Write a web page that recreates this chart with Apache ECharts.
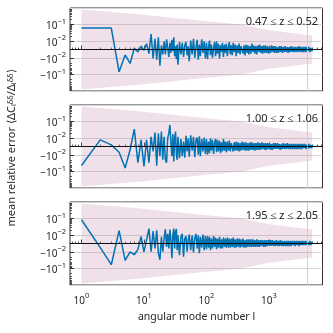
<!DOCTYPE html>
<html><head><meta charset="utf-8">
<script src="https://cdn.jsdelivr.net/npm/echarts@6/dist/echarts.min.js"></script>
<style>html,body{margin:0;padding:0;background:#fff}#c{width:333px;height:333px}</style>
</head><body><div id="c"></div>
<script>
// angular mode numbers at which the curves are read
const ells = [1,2,3,4,5,6,7,8,9,10,11,12,13,14,15,16,17,18,19,20,
  21,22,23,24,25,26,27,28,29,30,31,32,33,34,35,37,39,41,43,45,47,49,51,53,56,59,62,65,68,71,74,77,80,84,88,92,96,
  100,104,108,112,116,120,125,130,135,140,
  145,150,156,162,168,174,180,187,194,201,
  208,216,224,232,241,250,259,268,278,288,
  299,310,321,333,345,358,371,385,399,414,
  429,445,461,478,496,514,533,553,573,594,
  616,639,662,687,712,738,765,793,822,853,
  884,917,951,986,1022,1060,1099,1140,1182,1225,
  1270,1317,1366,1416,1468,1522,1578,1637,1697,1760,
  1825,1892,1962,2034,2109,2187,2268,2351,2438,2528,
  2621,2718,2818,2922,3030,3142,3258,3378,3503,3632,
  3766,3905,4049,4198,4353,4514,4680,4853,5000];

// mean relative error, panel 0.47<=z<=0.52
const errZ1 = [0.062,0.062,0.062,-0.07,-0.0066,-0.022,0.0015,-0.003,0.004,-0.001,0.007,-0.005,0.027,-0.011,0.014,-0.013,0.017,-0.03,0.005,-0.006,
  0.01,-0.006,0.013,0.002,-0.009,0.008,-0.004,0.012,-0.002,0.017,-0.008,0.004,-0.012,0.006,-0.026,0.009,-0.006,0.008,-0.009,0.005,0.009,-0.007,0.004,-0.016,0.011,-0.006,0.014,-0.01,0.003,0.012,-0.013,0.006,-0.008,0.013,-0.004,0.01,-0.011,
  0.008,-0.012,0.004,0.011,-0.007,0.006,-0.01,0.002,0.009,-0.008,
  0.01,-0.005,0.007,-0.011,0.005,-0.003,0.008,-0.009,0.006,-0.004,
  0.007,-0.008,0.003,0.009,-0.006,0.005,-0.007,0.008,-0.003,0.006,
  -0.008,0.005,-0.004,0.007,-0.006,0.004,0.006,-0.005,0.005,-0.007,
  0.006,-0.004,0.005,-0.006,0.004,-0.005,0.007,-0.003,0.005,-0.005,
  0.004,-0.006,0.005,-0.003,0.006,-0.004,0.004,-0.005,0.005,-0.004,
  0.005,-0.004,0.004,-0.005,0.003,-0.004,0.005,-0.003,0.004,-0.004,
  0.004,-0.004,0.003,-0.004,0.004,-0.003,0.004,-0.004,0.003,-0.003,
  0.004,-0.003,0.003,-0.004,0.003,-0.003,0.004,-0.003,0.003,-0.003,
  0.003,-0.003,0.003,-0.003,0.004,-0.003,0.003,-0.003,0.003,-0.003,
  0.003,-0.003,0.003,-0.002,0.003,-0.003,0.002,-0.002,0.001];
// panel 1.00<=z<=1.06
const errZ2 = [-0.044,0.008,0.002,-0.007,-0.062,-0.004,0.035,-0.03,0.008,-0.05,0.008,-0.03,0.012,-0.006,0.022,-0.045,0.02,-0.012,0.025,-0.02,
  0.012,-0.02,-0.03,0.01,0.02,0.063,0.005,-0.012,0.018,-0.025,0.01,0.025,-0.008,-0.02,0.012,-0.016,0.009,-0.012,0.006,-0.015,0.014,-0.006,0.01,-0.013,0.015,-0.005,0.012,-0.014,0.008,0.011,-0.01,0.013,-0.012,0.009,-0.006,0.011,-0.009,
  0.009,-0.01,0.006,-0.008,0.01,-0.005,0.008,-0.009,0.004,0.009,
  -0.007,0.008,-0.006,0.007,-0.008,0.005,-0.006,0.009,-0.005,0.006,
  -0.007,0.006,-0.005,0.007,-0.006,0.004,0.006,-0.006,0.005,-0.005,
  0.006,-0.005,0.005,-0.006,0.004,-0.005,0.006,-0.004,0.005,-0.005,
  0.005,-0.005,0.004,-0.005,0.005,-0.004,0.005,-0.004,0.004,-0.005,
  0.004,-0.004,0.005,-0.004,0.004,-0.004,0.005,-0.003,0.004,-0.004,
  0.004,-0.004,0.004,-0.003,0.004,-0.004,0.003,-0.004,0.004,-0.003,
  0.004,-0.003,0.004,-0.003,0.003,-0.004,0.003,-0.003,0.004,-0.003,
  0.003,-0.003,0.004,-0.003,0.003,-0.003,0.003,-0.003,0.003,-0.003,
  0.003,-0.003,0.003,-0.003,0.003,-0.003,0.003,-0.003,0.003,-0.002,
  0.003,-0.003,0.002,-0.003,0.003,-0.002,0.002,-0.002,0.002];
// panel 1.95<=z<=2.05
const errZ3 = [0.085,-0.005,-0.06,0.019,-0.033,-0.01,-0.015,-0.007,0.0086,-0.01,0.004,0.025,-0.01,0.018,-0.006,0.02,-0.012,-0.03,0.008,-0.01,
  0.006,0.023,-0.004,0.012,-0.006,0.022,0.004,-0.024,0.01,0.025,-0.006,0.015,0.024,-0.008,0.01,-0.016,0.008,0.012,-0.02,0.006,0.009,-0.01,0.004,0.011,-0.008,0.01,-0.011,0.007,0.012,-0.006,0.01,-0.012,0.008,-0.005,0.011,-0.008,0.009,
  -0.007,0.009,-0.005,0.008,-0.008,0.006,-0.006,0.009,-0.004,0.007,
  -0.007,0.006,-0.005,0.008,-0.006,0.005,-0.006,0.007,-0.004,0.006,
  -0.005,0.007,-0.005,0.006,-0.005,0.006,-0.004,0.007,-0.005,0.005,
  -0.005,0.006,-0.004,0.006,-0.005,0.005,-0.004,0.006,-0.005,0.004,
  -0.005,0.005,-0.004,0.005,-0.004,0.005,-0.004,0.005,-0.004,0.004,
  -0.004,0.005,-0.004,0.004,-0.004,0.004,-0.003,0.004,-0.004,0.004,
  -0.004,0.004,-0.003,0.004,-0.003,0.004,-0.003,0.004,-0.003,0.003,
  -0.003,0.004,-0.003,0.003,-0.003,0.004,-0.003,0.003,-0.003,0.003,
  -0.003,0.003,-0.003,0.003,-0.003,0.003,-0.003,0.003,-0.002,0.003,
  -0.003,0.003,-0.002,0.003,-0.003,0.003,-0.002,0.003,-0.002,0.003,
  -0.002,0.003,-0.002,0.002,-0.002,0.003,-0.002,0.002,0.001];

// shaded uncertainty band (half width), same for all panels
const bandEll = [1, 9, 20, 100, 365, 1000, 4900];
const bandHalf = [0.8, 0.4, 0.3, 0.16, 0.1, 0.045, 0.022];

const zLabels = ['0.47 \u2264 z \u2264 0.52', '1.00 \u2264 z \u2264 1.06', '1.95 \u2264 z \u2264 2.05'];
const xTicks = [1, 10, 100, 1000];
const xMinor = [0.7,0.8,0.9,2,3,4,5,6,7,8,9,20,30,40,50,60,70,80,90,200,300,400,500,600,700,800,900,2000,3000,4000,5000,6000,7000];
const yTickLabels = {'1.5': ['', '\u22121'], '0.5': ['', '\u22122'], '-0.5': ['\u2212', '\u22122'], '-1.5': ['\u2212', '\u22121']};
const yMinorAbs = [0.02,0.03,0.04,0.05,0.06,0.07,0.08,0.09,0.2,0.3,0.4,0.5,0.6,0.7,0.8,0.9];
const lMax = 4096;
const linThresh = 0.01;

const symlog = v => { const a = Math.abs(v); return a <= linThresh ? v / linThresh * 0.5 : Math.sign(v) * (Math.log10(a / linThresh) + 0.5); };
const FONT = 'Noto Sans';
const TXT = '#262626';

const panels = [errZ1, errZ2, errZ3];
const tops = [8, 105, 202];
const grid = [], xAxis = [], yAxis = [], series = [], graphic = [];
const yMinorT = [];
yMinorAbs.forEach(v => { yMinorT.push(symlog(v)); yMinorT.push(symlog(-v)); });

const rich = {
  b: {fontSize: 10, fontFamily: FONT, color: TXT, lineHeight: 14, verticalAlign: 'bottom'},
  s: {fontSize: 7.5, fontFamily: FONT, color: TXT, lineHeight: 8, verticalAlign: 'top'}
};

panels.forEach((vals, i) => {
  grid.push({left: 70, right: 10.5, top: tops[i], height: 83, show: true, borderColor: '#333', borderWidth: 1, backgroundColor: 'transparent'});
  const xBase = {type: 'log', gridIndex: i, min: 0.655, max: 7200, position: 'bottom', axisLine: {show: false}, splitLine: {show: false}, minorTick: {show: false}};
  xAxis.push(Object.assign({}, xBase, {
    axisTick: {show: true, inside: true, length: 4, customValues: xTicks, lineStyle: {color: '#333', width: 1}},
    axisLabel: {show: i === 2, customValues: xTicks, margin: 7, rich: rich,
      formatter: v => '{b|10}{s|' + Math.round(Math.log10(v)) + '}'}
  }));
  xAxis.push(Object.assign({}, xBase, {
    axisTick: {show: true, inside: true, length: 2, customValues: xMinor, lineStyle: {color: '#333', width: 0.8}},
    axisLabel: {show: false}
  }));
  yAxis.push({type: 'value', gridIndex: i, min: -2.5, max: 2.5, interval: 1, position: 'left',
    axisLine: {show: false},
    axisTick: {show: true, inside: true, length: 4, lineStyle: {color: '#333', width: 1}},
    axisLabel: {margin: 4, rich: rich, showMinLabel: false, showMaxLabel: false,
      formatter: v => { const k = (Math.round(v * 10) / 10).toFixed(1); const e = yTickLabels[k]; return e ? '{b|' + e[0] + '10}{s|' + e[1] + '}' : ''; }},
    splitLine: {show: true, lineStyle: {color: '#d4d4d4', width: 1}}
  });
  yAxis.push({type: 'value', gridIndex: i, min: -2.5, max: 2.5, position: 'left',
    axisLine: {show: false},
    axisTick: {show: true, inside: true, length: 2, customValues: yMinorT, lineStyle: {color: '#333', width: 0.8}},
    axisLabel: {show: false}, splitLine: {show: false}
  });
  const xi = 2 * i, yi = 2 * i;
  const pink = 'rgba(200,140,175,0.38)';
  series.push({type: 'line', xAxisIndex: xi, yAxisIndex: yi, symbol: 'none', silent: true, z: 1,
    data: bandEll.map((l, k) => [l, symlog(bandHalf[k])]),
    lineStyle: {width: 0, opacity: 0}, areaStyle: {color: pink, origin: 0}
  });
  series.push({type: 'line', xAxisIndex: xi, yAxisIndex: yi, symbol: 'none', silent: true, z: 1,
    data: bandEll.map((l, k) => [l, symlog(-bandHalf[k])]),
    lineStyle: {width: 0, opacity: 0}, areaStyle: {color: pink, origin: 0},
    markLine: {silent: true, symbol: 'none', label: {show: false}, lineStyle: {color: '#cfcfcf', width: 1, type: 'solid'},
      data: [{xAxis: lMax}]}
  });
  series.push({type: 'line', xAxisIndex: xi, yAxisIndex: yi, symbol: 'none', z: 2,
    data: ells.map((l, k) => [l, symlog(vals[k])]),
    lineStyle: {color: '#0173b2', width: 1.5}
  });
  series.push({type: 'line', xAxisIndex: xi, yAxisIndex: yi, symbol: 'none', z: 3, data: [],
    markLine: {silent: true, symbol: 'none', label: {show: false}, lineStyle: {color: '#111', width: 1.2, type: 'solid'},
      data: [{yAxis: 0}]}
  });
  graphic.push({type: 'text', x: 318, y: tops[i] + 14, z: 10,
    style: {text: zLabels[i], fontSize: 11, fontFamily: FONT, fill: TXT, align: 'right', verticalAlign: 'middle'}});
});

graphic.push({type: 'text', x: 196.5, y: 317, z: 10,
  style: {text: 'angular mode number l', fontSize: 10.5, fontFamily: FONT, fill: TXT, align: 'center', verticalAlign: 'middle'}});
graphic.push({type: 'text', x: 12, y: 148, rotation: Math.PI / 2, z: 10,
  style: {text: 'mean relative error \u27e8\u0394C{sub|l}{sup|\u03b4\u03b4}/\u0394{sub|l}{sup|\u03b4\u03b4}\u27e9',
    fontSize: 11, fontFamily: FONT, fill: TXT, align: 'center', verticalAlign: 'middle',
    rich: {
      sup: {fontSize: 7.5, fontFamily: FONT, fill: TXT, lineHeight: 7, verticalAlign: 'top'},
      sub: {fontSize: 7.5, fontFamily: FONT, fill: TXT, lineHeight: 7, verticalAlign: 'bottom'}
    }}});

const chart = echarts.init(document.getElementById('c'), null, {renderer: 'canvas'});
chart.setOption({animation: false, backgroundColor: '#fff', grid, xAxis, yAxis, series, graphic});
</script></body></html>
